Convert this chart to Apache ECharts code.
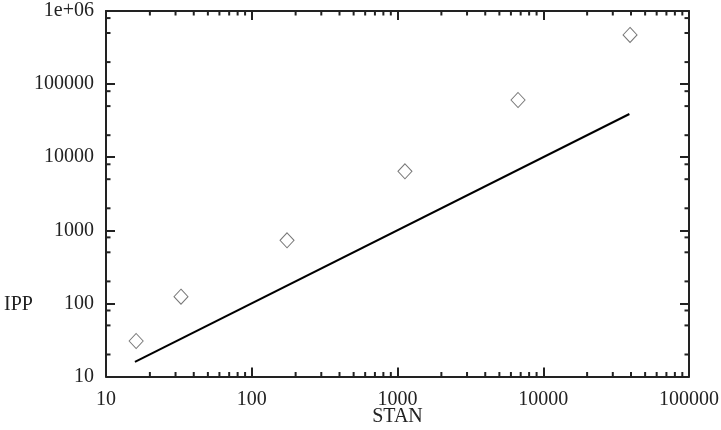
<!DOCTYPE html>
<html>
<head>
<meta charset="utf-8">
<script src="https://cdn.jsdelivr.net/npm/echarts@6/dist/echarts.min.js"></script>
<style>
  html, body { margin: 0; padding: 0; background: #fff; }
  #chart { width: 721px; height: 430px; }
</style>
</head>
<body>
<div id="chart"></div>
<script>
// values
const stanValues = [16.1, 32.7, 174.6, 1125, 6714, 39400];
const ippValues = [30.6, 123.6, 729, 6412, 60600, 469700];
// the reference line (IPP = STAN)
const lineStan = [15.8, 39000];
const lineIpp = [15.8, 39000];

const xTickLabels = ['10', '100', '1000', '10000', '100000'];
const yTickLabels = ['10', '100', '1000', '10000', '100000', '1e+06'];
const xDecades = [10, 100, 1000, 10000];
const yDecades = [10, 100, 1000, 10000, 100000];
const xMinorSteps = [2, 3, 4, 5, 6, 7, 8, 9];
const yMinorSteps = [2, 5, 8];

const font = '"Liberation Serif", "DejaVu Serif", serif';
const ink = '#222';

let xMinor = [];
xDecades.forEach(d => xMinorSteps.forEach(s => xMinor.push([d * s, 10])));
let yMinor = [];
yDecades.forEach(d => yMinorSteps.forEach(s => yMinor.push([10, d * s])));

function labelOf(list) {
  return function (v) {
    let i = Math.round(Math.log10(v)) - Math.round(Math.log10(Number(list[0])));
    return list[i] || '';
  };
}

let myChart = echarts.init(document.getElementById('chart'));

const baseAxis = {
  type: 'log',
  logBase: 10,
  axisLine: { lineStyle: { color: ink, width: 2 } },
  axisTick: { inside: true, length: 9, lineStyle: { color: ink, width: 2 } },
  splitLine: { show: false },
};

let option = {
  animation: false,
  grid: { left: 106, right: 32, top: 11, bottom: 53.5, outerBoundsMode: 'none', containLabel: false },
  graphic: [
    {
      type: 'text',
      left: 4,
      top: 295,
      style: { text: 'IPP', font: '20px ' + font, fill: ink },
    },
  ],
  xAxis: [
    Object.assign({}, baseAxis, {
      min: 10,
      max: 100000,
      splitNumber: 4,
      position: 'bottom',
      name: 'STAN',
      nameLocation: 'middle',
      nameGap: 30,
      nameMoveOverlap: false,
      nameTextStyle: { fontFamily: font, fontSize: 20, color: ink },
      axisLabel: {
        margin: 13,
        fontFamily: font,
        fontSize: 20,
        color: ink,
        formatter: labelOf(xTickLabels),
      },
    }),
    Object.assign({}, baseAxis, {
      min: 10,
      max: 100000,
      splitNumber: 4,
      position: 'top',
      axisLabel: { show: false },
    }),
  ],
  yAxis: [
    Object.assign({}, baseAxis, {
      min: 10,
      max: 1000000,
      splitNumber: 5,
      position: 'left',
      axisLabel: {
        margin: 12,
        fontFamily: font,
        fontSize: 20,
        color: ink,
        formatter: labelOf(yTickLabels),
      },
    }),
    Object.assign({}, baseAxis, {
      min: 10,
      max: 1000000,
      splitNumber: 5,
      position: 'right',
      axisLabel: { show: false },
    }),
  ],
  series: [
    {
      name: 'line',
      type: 'line',
      symbol: 'none',
      lineStyle: { color: '#000', width: 2 },
      data: lineStan.map((x, i) => [x, lineIpp[i]]),
    },
    {
      name: 'IPP',
      type: 'scatter',
      symbol: 'diamond',
      symbolSize: [14, 15],
      itemStyle: { color: 'rgba(255,255,255,0)', borderColor: '#555', borderWidth: 1 },
      data: stanValues.map((x, i) => [x, ippValues[i]]),
    },
    {
      // minor ticks on bottom and top
      type: 'custom',
      silent: true,
      data: xMinor,
      renderItem: function (params, api) {
        let x = api.coord([api.value(0), 10])[0];
        let r = params.coordSys;
        let st = { stroke: ink, lineWidth: 2 };
        return {
          type: 'group',
          children: [
            { type: 'line', shape: { x1: x, y1: r.y + r.height, x2: x, y2: r.y + r.height - 4.5 }, style: st },
            { type: 'line', shape: { x1: x, y1: r.y, x2: x, y2: r.y + 4.5 }, style: st },
          ],
        };
      },
    },
    {
      // minor ticks on left and right
      type: 'custom',
      silent: true,
      data: yMinor,
      renderItem: function (params, api) {
        let y = api.coord([10, api.value(1)])[1];
        let r = params.coordSys;
        let st = { stroke: ink, lineWidth: 2 };
        return {
          type: 'group',
          children: [
            { type: 'line', shape: { x1: r.x, y1: y, x2: r.x + 4.5, y2: y }, style: st },
            { type: 'line', shape: { x1: r.x + r.width, y1: y, x2: r.x + r.width - 4.5, y2: y }, style: st },
          ],
        };
      },
    },
  ],
};

myChart.setOption(option);
</script>
</body>
</html>
